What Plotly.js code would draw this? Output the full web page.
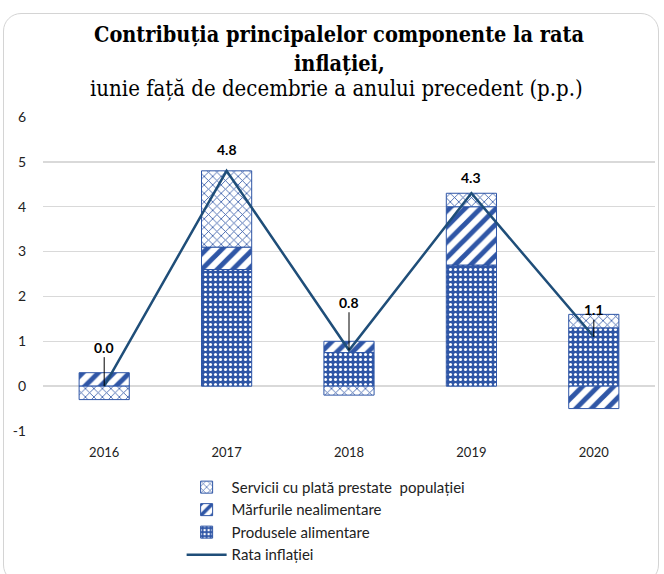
<!DOCTYPE html>
<html>
<head>
<meta charset="utf-8">
<script src="https://cdn.plot.ly/plotly-3.0.1.min.js"></script>
<style>
html,body{margin:0;padding:0;background:#fff;}
#wrap{position:relative;width:664px;height:574px;}
#chart{width:664px;height:574px;}
#frame{position:absolute;left:3px;top:13px;width:656px;height:570px;border:1.5px solid #d4d4d4;border-radius:18px;pointer-events:none;box-sizing:border-box;}
</style>
</head>
<body>
<div id="wrap"><div id="chart"></div><div id="frame"></div></div>
<script>
const years = ['2016', '2017', '2018', '2019', '2020'];
const produseAlimentare = [0.0, 2.6, 0.75, 2.7, 1.3];
const marfurileNealimentare = [0.3, 0.5, 0.25, 1.3, -0.5];
const serviciiPrestate = [-0.3, 1.7, -0.2, 0.3, 0.3];
const rataInflatiei = [0.0, 4.8, 0.8, 4.3, 1.1];
const rataLabels = ['0.0', '4.8', '0.8', '4.3', '1.1'];
const yTickVals = [-1, 0, 1, 2, 3, 4, 5, 6];
const yTickText = ['-1', '0', '1', '2', '3', '4', '5', '6'];
const titleLines = ['Contribuția principalelor componente la rata', 'inflației,'];
const subtitleText = 'iunie față de decembrie a anului precedent (p.p.)';
const labelOffsets = [-39, 0, -48, 0, -27];
const labelShifts = [0, 21, 0, 16, 0];

const BLUE = '#2F56A6';
const NAVY = '#1F4E79';
const FONT = 'Lato, "Open Sans", sans-serif';
const SERIF = '"DejaVu Serif Condensed", "DejaVu Serif", serif';

const traces = [
  {
    type: 'bar', name: 'Produsele alimentare', x: years, y: produseAlimentare,
    width: 0.41, legendrank: 3,
    marker: {color: BLUE, line: {color: BLUE, width: 1},
      pattern: {shape: '.', fgcolor: '#ffffff', bgcolor: BLUE, size: 5, solidity: 0.3, fillmode: 'replace'}},
    hoverinfo: 'skip'
  },
  {
    type: 'bar', name: 'Mărfurile nealimentare', x: years, y: marfurileNealimentare,
    width: 0.41, legendrank: 2,
    marker: {color: BLUE, line: {color: BLUE, width: 1},
      pattern: {shape: '/', fgcolor: BLUE, bgcolor: '#ffffff', size: 11, solidity: 0.45, fillmode: 'replace'}},
    hoverinfo: 'skip'
  },
  {
    type: 'bar', name: 'Servicii cu plată prestate\u00a0 populației', x: years, y: serviciiPrestate,
    width: 0.41, legendrank: 1,
    marker: {color: BLUE, line: {color: BLUE, width: 1},
      pattern: {shape: 'x', fgcolor: BLUE, bgcolor: '#ffffff', size: 6, solidity: 0.25, fillmode: 'replace'}},
    hoverinfo: 'skip'
  },
  {
    type: 'scatter', mode: 'lines', name: 'Rata inflației', x: years, y: rataInflatiei,
    line: {color: NAVY, width: 2.5}, legendrank: 4, hoverinfo: 'skip'
  }
];

const annotations = years.map((yr, i) => {
  const hasArrow = labelOffsets[i] !== 0;
  return {
    x: i, y: rataInflatiei[i], xref: 'x', yref: 'y',
    text: '<b>' + rataLabels[i] + '</b>',
    font: {family: FONT, size: 14, color: '#000'},
    showarrow: hasArrow, arrowhead: 0, arrowwidth: 1, arrowcolor: '#000',
    ax: 0, ay: labelOffsets[i], standoff: 0,
    yshift: labelShifts[i]
  };
});

annotations.push(
  {xref: 'paper', yref: 'paper', x: 0.484, y: 1.264, yanchor: 'middle', xanchor: 'center', showarrow: false,
   text: '<b>' + titleLines[0] + '</b>', font: {family: SERIF, size: 21.5, color: '#000'}},
  {xref: 'paper', yref: 'paper', x: 0.484, y: 1.171, yanchor: 'middle', xanchor: 'center', showarrow: false,
   text: '<b>' + titleLines[1] + '</b>', font: {family: SERIF, size: 21.5, color: '#000'}},
  {xref: 'paper', yref: 'paper', x: 0.479, y: 1.09, yanchor: 'middle', xanchor: 'center', showarrow: false,
   text: subtitleText, font: {family: SERIF, size: 22, color: '#000'}}
);

const layout = {
  width: 664, height: 574,
  margin: {l: 43, r: 9, t: 117, b: 143, autoexpand: false},
  paper_bgcolor: '#ffffff', plot_bgcolor: '#ffffff',
  barmode: 'relative', bargap: 0.59,
  showlegend: true,
  xaxis: {
    type: 'category', range: [-0.5, 4.5], autorange: false,
    showgrid: false, zeroline: false, showline: false,
    tickfont: {family: FONT, size: 13, color: '#222'}, ticks: '', ticklabelstandoff: 12
  },
  yaxis: {
    range: [-1, 6], autorange: false, tickmode: 'array', tickvals: yTickVals, ticktext: yTickText,
    showgrid: true, gridcolor: '#d9d9d9', gridwidth: 1.5,
    zeroline: false, showline: false, ticks: '',
    tickfont: {family: FONT, size: 14, color: '#222'}, ticklabelstandoff: 16
  },
  legend: {
    x: 0.2265, xanchor: 'left', y: -0.127, yanchor: 'top',
    orientation: 'v', traceorder: 'normal',
    font: {family: FONT, size: 15, color: '#222'},
    bgcolor: 'rgba(0,0,0,0)', itemwidth: 40, tracegroupgap: 0
  },
  annotations: annotations
};

Plotly.newPlot('chart', traces, layout, {displayModeBar: false, staticPlot: true});
</script>
</body>
</html>
